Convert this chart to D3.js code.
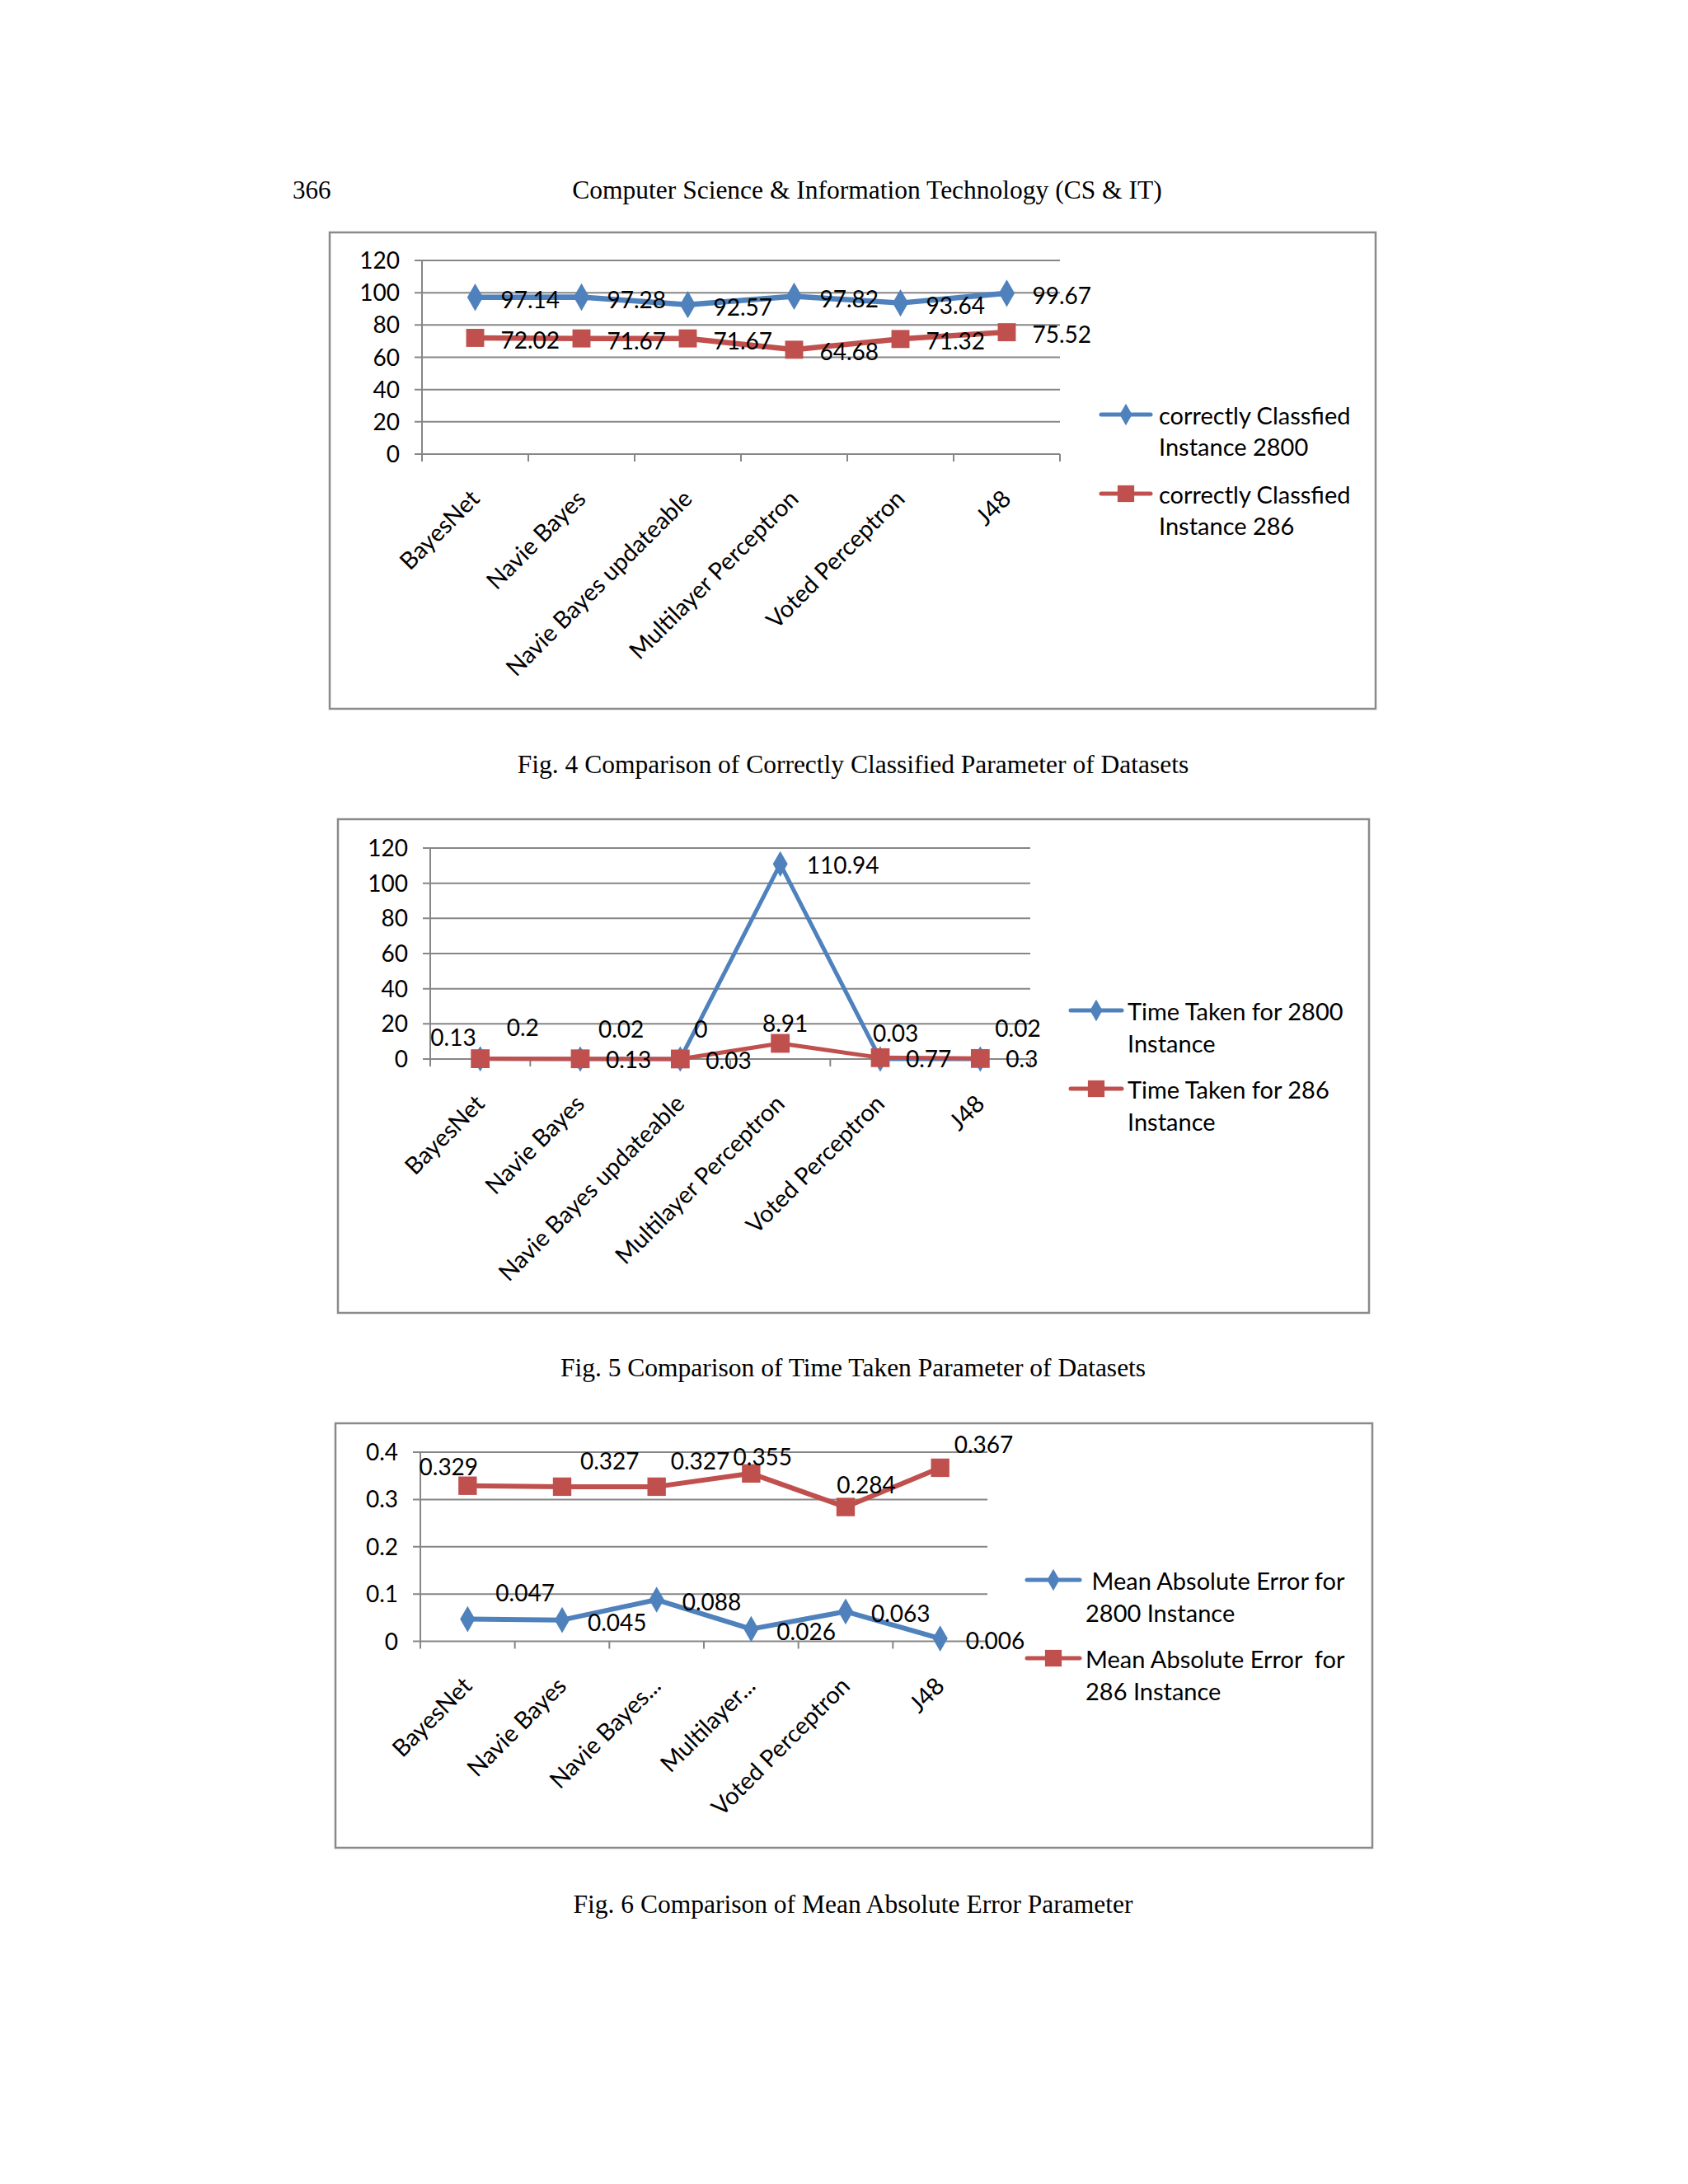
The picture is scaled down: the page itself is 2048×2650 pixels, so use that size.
<!DOCTYPE html>
<html><head><meta charset="utf-8">
<script src="https://cdn.jsdelivr.net/npm/d3@7"></script>
<style>html,body{margin:0;padding:0;background:#fff;}</style>
</head><body>
<svg id="page" width="2048" height="2650"></svg>
<script>
// ---------- DATA ----------
const categoriesFull = ["BayesNet", "Navie Bayes", "Navie Bayes updateable", "Multilayer Perceptron", "Voted Perceptron", "J48"];
const categoriesShort = ["BayesNet", "Navie Bayes", "Navie Bayes...", "Multilayer...", "Voted Perceptron", "J48"];

const correct2800 = [97.14, 97.28, 92.57, 97.82, 93.64, 99.67];
const correct286  = [72.02, 71.67, 71.67, 64.68, 71.32, 75.52];
const ticksCorrect = [0, 20, 40, 60, 80, 100, 120];

const time2800 = [0.13, 0.02, 0, 110.94, 0.03, 0.02];
const time286  = [0.2, 0.13, 0.03, 8.91, 0.77, 0.3];
const ticksTime = [0, 20, 40, 60, 80, 100, 120];

const mae2800 = [0.047, 0.045, 0.088, 0.026, 0.063, 0.006];
const mae286  = [0.329, 0.327, 0.327, 0.355, 0.284, 0.367];
const ticksMae = [0, 0.1, 0.2, 0.3, 0.4];

const legend1 = [["correctly Classfied", "Instance 2800"], ["correctly Classfied", "Instance 286"]];
const legend2 = [["Time Taken for 2800", "Instance"], ["Time Taken for 286", "Instance"]];
const legend3 = [["\u00a0Mean Absolute Error for", "2800 Instance"], ["Mean Absolute Error \u00a0for", "286 Instance"]];

const headerNum = "366";
const headerTitle = "Computer Science & Information Technology (CS & IT)";
const captions = ["Fig. 4 Comparison of Correctly Classified Parameter of Datasets",
                  "Fig. 5 Comparison of Time Taken Parameter of Datasets",
                  "Fig. 6 Comparison of Mean Absolute Error Parameter"];

// ---------- LAYOUT / STYLE ----------
const BLUE = "#4F81BD", RED = "#C0504D", GRID = "#868686", BORDER = "#8a8a8a";
const FONT = "Lato, 'Open Sans', sans-serif";
const SERIF = "'Liberation Serif', 'Times New Roman', serif";
const R = ["start", 31, 3];
// label placement per point: [anchor, dx, dy(center)]
const place1 = {blue: [R,R,R,R,R,R], red: [R,R,R,R,R,R]};
const place2 = {
  blue: [["end",-5,-26],["start",22,-36],["start",17,-36],["start",32,2],["start",-9,-31],["start",18,-37]],
  red:  [["start",32,-38],["start",31,1],["start",31,2],["middle",6,-24],["start",31,2],["start",31,1]]
};
const place3 = {
  blue: [["start",34,-32],R,R,R,R,R],
  red:  [["middle",-23,-23],["start",22,-31],["start",17,-31],["middle",14,-20],["middle",25,-27],["start",17,-28]]
};

const svg = d3.select("#page");

function drawChart(cfg) {
  const g = svg.append("g");
  g.append("rect").attr("x", cfg.box[0]).attr("y", cfg.box[1])
    .attr("width", cfg.box[2] - cfg.box[0]).attr("height", cfg.box[3] - cfg.box[1])
    .attr("fill", "#fff").attr("stroke", BORDER).attr("stroke-width", 2.5);

  const x = d3.scaleBand().domain(cfg.categories).range([cfg.x0, cfg.x1]);
  const y = d3.scaleLinear().domain(cfg.domain).range([cfg.yBottom, cfg.yTop]);

  g.selectAll(".grid").data(cfg.ticks).join("line")
    .attr("x1", cfg.x0 - 9).attr("x2", cfg.x1)
    .attr("y1", d => y(d)).attr("y2", d => y(d))
    .attr("stroke", GRID).attr("stroke-width", 2);
  g.append("line").attr("x1", cfg.x0).attr("x2", cfg.x0)
    .attr("y1", y(cfg.domain[1])).attr("y2", y(0))
    .attr("stroke", GRID).attr("stroke-width", 2);
  g.selectAll(".ylab").data(cfg.ticks).join("text")
    .attr("x", cfg.x0 - 27).attr("y", d => y(d)).attr("dy", "0.36em")
    .attr("text-anchor", "end").attr("font-family", FONT).attr("font-size", 28)
    .attr("fill", "#000").text(d => d3.format(cfg.tickFmt)(d));
  const edges = cfg.categories.map(c => x(c)).concat([cfg.x1]);
  g.selectAll(".xtick").data(edges).join("line")
    .attr("x1", d => d).attr("x2", d => d)
    .attr("y1", y(0)).attr("y2", y(0) + 9)
    .attr("stroke", GRID).attr("stroke-width", 2);
  g.selectAll(".xlab").data(cfg.categories).join("text")
    .attr("transform", d => `translate(${x(d) + x.bandwidth() / 2 + 7},${y(0) + 56}) rotate(-45)`)
    .attr("text-anchor", "end").attr("font-family", FONT).attr("font-size", 29)
    .attr("fill", "#000").text(d => d);

  const cx = i => x(cfg.categories[i]) + x.bandwidth() / 2;
  const series = [
    {vals: cfg.blue, color: BLUE, shape: d3.symbolDiamond, place: cfg.place.blue, msize: cfg.diamondSize},
    {vals: cfg.red, color: RED, shape: d3.symbolSquare, place: cfg.place.red, msize: cfg.squareSize}
  ];
  const order = cfg.redFirst ? [series[0], series[1]] : [series[1], series[0]];
  order.forEach(s => {
    const line = d3.line().x((d, i) => cx(i)).y(d => y(d));
    g.append("path").attr("d", line(s.vals)).attr("fill", "none")
      .attr("stroke", s.color).attr("stroke-width", cfg.lineWidth).attr("stroke-linejoin", "round");
    g.selectAll(null).data(s.vals).join("path")
      .attr("transform", (d, i) => `translate(${cx(i)},${y(d)})`)
      .attr("d", d3.symbol().type(s.shape).size(s.msize))
      .attr("fill", s.color);
  });
  series.forEach(s => {
    g.selectAll(null).data(s.vals).join("text")
      .attr("x", (d, i) => cx(i) + s.place[i][1])
      .attr("y", (d, i) => y(d) + s.place[i][2])
      .attr("dy", "0.36em")
      .attr("text-anchor", (d, i) => s.place[i][0])
      .attr("font-family", FONT).attr("font-size", 28).attr("fill", "#000")
      .text(d => String(d));
  });

  const L = cfg.legend;
  [[BLUE, d3.symbolDiamond, L.y[0], cfg.legendText[0], 200], [RED, d3.symbolSquare, L.y[1], cfg.legendText[1], 410]].forEach(([col, shp, ly, txt, sz]) => {
    g.append("line").attr("x1", L.x1).attr("x2", L.x2).attr("y1", ly).attr("y2", ly)
      .attr("stroke", col).attr("stroke-width", 5).attr("stroke-linecap", "round");
    g.append("path").attr("transform", `translate(${(L.x1 + L.x2) / 2},${ly})`)
      .attr("d", d3.symbol().type(shp).size(sz)).attr("fill", col);
    txt.forEach((t, k) => {
      g.append("text").attr("x", L.tx).attr("y", ly + 2 + k * L.lh).attr("dy", "0.36em")
        .attr("font-family", FONT).attr("font-size", 29).attr("fill", "#000")
        .attr("xml:space", "preserve").text(t);
    });
  });
}

svg.append("text").attr("x", 355).attr("y", 241).attr("font-family", SERIF).attr("font-size", 31).text(headerNum);
svg.append("text").attr("x", 1052).attr("y", 241).attr("text-anchor", "middle").attr("font-family", SERIF).attr("font-size", 31.5).text(headerTitle);

drawChart({
  box: [400, 282, 1669, 860], categories: categoriesFull, domain: [0, 120], ticks: ticksCorrect, tickFmt: "d",
  x0: 512, x1: 1286, yTop: 316, yBottom: 551, blue: correct2800, red: correct286, place: place1,
  lineWidth: 6.5, diamondSize: 320, squareSize: 480, redFirst: false,
  legend: {x1: 1336, x2: 1396, y: [503, 599], tx: 1406, lh: 38}, legendText: legend1
});
drawChart({
  box: [410, 994, 1661, 1593], categories: categoriesFull, domain: [0, 120], ticks: ticksTime, tickFmt: "d",
  x0: 522, x1: 1250, yTop: 1029, yBottom: 1285, blue: time2800, red: time286, place: place2,
  lineWidth: 5, diamondSize: 280, squareSize: 520, redFirst: true,
  legend: {x1: 1299, x2: 1361, y: [1226, 1321], tx: 1368, lh: 39}, legendText: legend2
});
drawChart({
  box: [407, 1727, 1665, 2242], categories: categoriesShort, domain: [0, 0.4], ticks: ticksMae, tickFmt: "",
  x0: 510, x1: 1198, yTop: 1762, yBottom: 1991.5, blue: mae2800, red: mae286, place: place3,
  lineWidth: 6, diamondSize: 290, squareSize: 500, redFirst: true,
  legend: {x1: 1246, x2: 1310, y: [1917, 2012], tx: 1317, lh: 39}, legendText: legend3
});

const capY = [938, 1670, 2321];
svg.selectAll(".cap").data(captions).join("text")
  .attr("x", 1035).attr("y", (d, i) => capY[i]).attr("text-anchor", "middle")
  .attr("font-family", SERIF).attr("font-size", 31.5).attr("fill", "#000").text(d => d);
</script>
</body></html>
